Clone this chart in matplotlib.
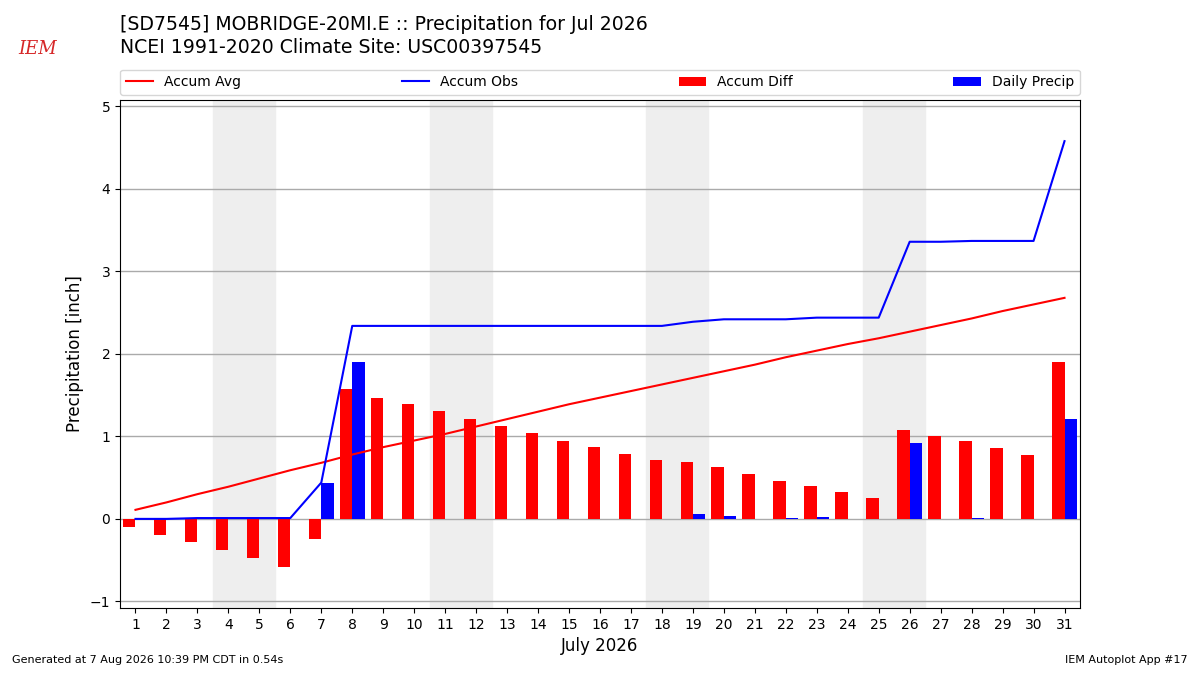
import matplotlib
matplotlib.use('Agg')
import matplotlib.pyplot as plt
import numpy as np

# Data (inches)
days = list(range(1, 32))
accum_avg = [0.11, 0.20, 0.30, 0.39, 0.49, 0.59, 0.68, 0.78, 0.87, 0.95,
             1.03, 1.12, 1.21, 1.30, 1.39, 1.47, 1.55, 1.63, 1.71, 1.79,
             1.87, 1.96, 2.04, 2.12, 2.19, 2.27, 2.35, 2.43, 2.52, 2.60, 2.68]
accum_obs = [0.00, 0.00, 0.01, 0.01, 0.01, 0.01, 0.44, 2.34, 2.34, 2.34,
             2.34, 2.34, 2.34, 2.34, 2.34, 2.34, 2.34, 2.34, 2.39, 2.42,
             2.42, 2.42, 2.44, 2.44, 2.44, 3.36, 3.36, 3.37, 3.37, 3.37, 4.58]
accum_diff = [-0.10, -0.20, -0.28, -0.38, -0.48, -0.58, -0.24, 1.57, 1.47, 1.39,
              1.31, 1.21, 1.13, 1.04, 0.95, 0.87, 0.79, 0.71, 0.69, 0.63,
              0.55, 0.46, 0.40, 0.33, 0.25, 1.08, 1.01, 0.94, 0.86, 0.77, 1.90]
daily_precip = [0, 0, 0, 0, 0, 0, 0.43, 1.90, 0, 0,
                0, 0, 0, 0, 0, 0, 0, 0, 0.06, 0.04,
                0, 0.01, 0.02, 0, 0, 0.92, 0, 0.01, 0, 0, 1.21]
weekends = [(3.5, 5.5), (10.5, 12.5), (17.5, 19.5), (24.5, 26.5)]

fig = plt.figure(figsize=(12, 6.75), dpi=100)
ax = fig.add_axes([0.1, 0.0993, 0.8, 0.7527])

for start, end in weekends:
    ax.axvspan(start, end, color='#eeeeee', zorder=0)

x = np.array(days)
ax.plot(x, accum_avg, color='r', label='Accum Avg', zorder=3)
ax.plot(x, accum_obs, color='b', label='Accum Obs', zorder=3)
ax.bar(x - 0.4, accum_diff, width=0.4, align='edge', color='r',
       label='Accum Diff', zorder=2)
ax.bar(x, daily_precip, width=0.4, align='edge', color='b',
       label='Daily Precip', zorder=2)

ax.set_xlim(0.5, 31.5)
ax.set_ylim(-1.08, 5.08)
ax.set_xticks(days)
ax.set_yticks(range(-1, 6))
ax.tick_params(labelsize=10)
ax.grid(True, axis='y', color='#aaaaaa', linewidth=1, zorder=1)
ax.set_axisbelow(True)
ax.set_xlabel('July 2026', fontsize=12)
ax.set_ylabel('Precipitation [inch]', fontsize=12)

ax.legend(bbox_to_anchor=(0, 1.01, 1, 0.05), loc='lower left', ncol=4,
          mode='expand', borderaxespad=0, fontsize=10)

fig.text(0.1, 0.9644, '[SD7545] MOBRIDGE-20MI.E :: Precipitation for Jul 2026',
         fontsize=13.6, va='center')
fig.text(0.1, 0.930, 'NCEI 1991-2020 Climate Site: USC00397545',
         fontsize=13.6, va='center')

# simple stand-in for the IEM logo
fig.text(0.031, 0.927, 'IEM', color='#d62728', fontsize=13, style='italic',
         family='DejaVu Serif', ha='center', va='center')

fig.text(0.01, 0.015, 'Generated at 7 Aug 2026 10:39 PM CDT in 0.54s',
         fontsize=8, va='bottom')
fig.text(0.99, 0.015, 'IEM Autoplot App #17', fontsize=8, ha='right',
         va='bottom')

fig.savefig('out.png', dpi=100)
